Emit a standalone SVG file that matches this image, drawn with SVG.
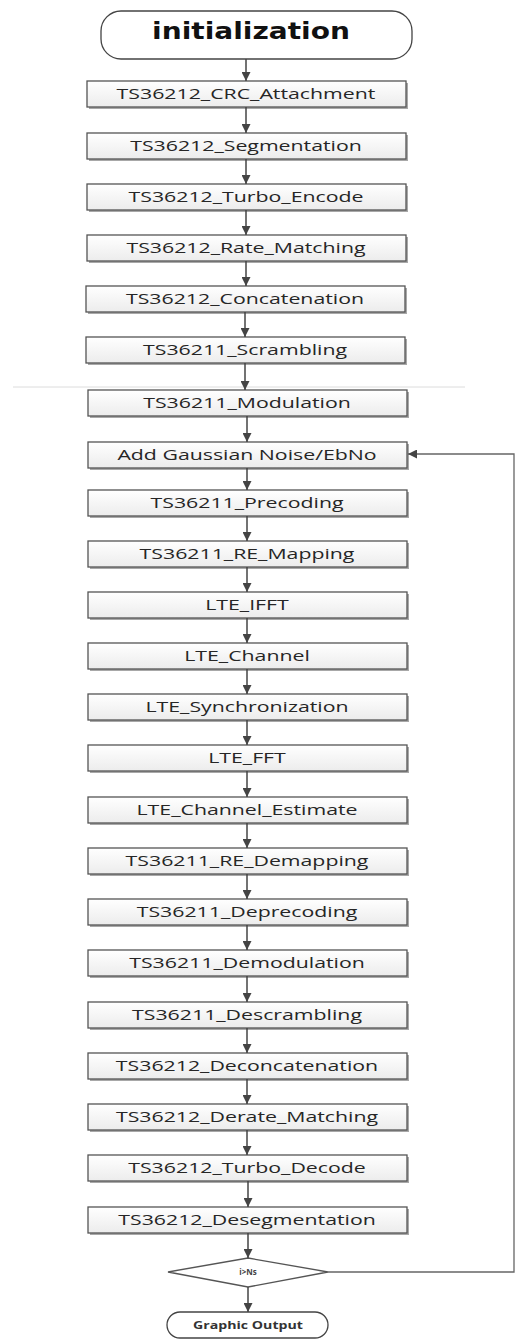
<svg xmlns="http://www.w3.org/2000/svg" width="515" height="1340" viewBox="0 0 515 1340">
  <style>
    .box { fill: url(#boxFill); stroke: #555; stroke-width: 1.3; }
    .shadow { fill: #a8a8a8; }
    .lbl { font-family: "Open Sans", "Liberation Sans", sans-serif; font-size: 15px; fill: #262626; text-anchor: middle; }
    .term { fill: #fff; stroke: #444; stroke-width: 1.3; }
    .flow { stroke: #444; stroke-width: 1.5; fill: none; }
    .loop { stroke: #666; stroke-width: 1.3; fill: none; }
  </style>
  <defs>
    <linearGradient id="boxFill" x1="0" y1="0" x2="0" y2="1">
      <stop offset="0" stop-color="#ffffff"/>
      <stop offset="1" stop-color="#ececec"/>
    </linearGradient>
    <marker id="arrow" viewBox="0 0 10 10" refX="10" refY="5" markerWidth="9" markerHeight="9" markerUnits="userSpaceOnUse" orient="auto">
      <path d="M0,0 L10,5 L0,10 z" fill="#444"/>
    </marker>
  </defs>

  <rect width="515" height="1340" fill="#ffffff"/>

  <!-- faint separator -->
  <line x1="13" y1="387" x2="465" y2="387" stroke="#dcdcdc" stroke-width="1"/>

  <!-- start terminal -->
  <g id="initialization">
    <rect class="term" x="101" y="11" width="311" height="48" rx="20" ry="20"/>
    <text x="0" y="0" transform="matrix(1.22 0 0 1 251 39)" font-family="DejaVu Sans, sans-serif" font-weight="bold" font-size="23" fill="#111" text-anchor="middle">initialization</text>
  </g>

  <!-- process boxes -->
  <g id="crc_attachment">
    <rect class="shadow" x="89" y="83" width="319" height="26"/>
    <rect class="box" x="87" y="81" width="319" height="26"/>
    <text class="lbl" transform="matrix(1.42 0 0 1 246 99)">TS36212_CRC_Attachment</text>
  </g>
  <g id="segmentation">
    <rect class="shadow" x="89" y="135" width="319" height="26"/>
    <rect class="box" x="87" y="133" width="319" height="26"/>
    <text class="lbl" transform="matrix(1.42 0 0 1 246 151)">TS36212_Segmentation</text>
  </g>
  <g id="turbo_encode">
    <rect class="shadow" x="89" y="186" width="319" height="26"/>
    <rect class="box" x="87" y="184" width="319" height="26"/>
    <text class="lbl" transform="matrix(1.42 0 0 1 246 202)">TS36212_Turbo_Encode</text>
  </g>
  <g id="rate_matching">
    <rect class="shadow" x="89" y="237" width="319" height="26"/>
    <rect class="box" x="87" y="235" width="319" height="26"/>
    <text class="lbl" transform="matrix(1.42 0 0 1 246 253)">TS36212_Rate_Matching</text>
  </g>
  <g id="concatenation">
    <rect class="shadow" x="88" y="288" width="319" height="26"/>
    <rect class="box" x="86" y="286" width="319" height="26"/>
    <text class="lbl" transform="matrix(1.42 0 0 1 245 304)">TS36212_Concatenation</text>
  </g>
  <g id="scrambling">
    <rect class="shadow" x="88" y="339" width="319" height="26"/>
    <rect class="box" x="86" y="337" width="319" height="26"/>
    <text class="lbl" transform="matrix(1.42 0 0 1 245 355)">TS36211_Scrambling</text>
  </g>
  <g id="modulation">
    <rect class="shadow" x="90" y="392" width="319" height="26"/>
    <rect class="box" x="88" y="390" width="319" height="26"/>
    <text class="lbl" transform="matrix(1.42 0 0 1 247 408)">TS36211_Modulation</text>
  </g>
  <g id="gaussian_noise">
    <rect class="shadow" x="90" y="444" width="319" height="26"/>
    <rect class="box" x="88" y="442" width="319" height="26"/>
    <text class="lbl" transform="matrix(1.42 0 0 1 247 460)">Add Gaussian Noise/EbNo</text>
  </g>
  <g id="precoding">
    <rect class="shadow" x="90" y="492" width="319" height="26"/>
    <rect class="box" x="88" y="490" width="319" height="26"/>
    <text class="lbl" transform="matrix(1.42 0 0 1 247 508)">TS36211_Precoding</text>
  </g>
  <g id="re_mapping">
    <rect class="shadow" x="90" y="543" width="319" height="26"/>
    <rect class="box" x="88" y="541" width="319" height="26"/>
    <text class="lbl" transform="matrix(1.42 0 0 1 247 559)">TS36211_RE_Mapping</text>
  </g>
  <g id="ifft">
    <rect class="shadow" x="90" y="594" width="319" height="26"/>
    <rect class="box" x="88" y="592" width="319" height="26"/>
    <text class="lbl" transform="matrix(1.42 0 0 1 247 610)">LTE_IFFT</text>
  </g>
  <g id="channel">
    <rect class="shadow" x="90" y="645" width="319" height="26"/>
    <rect class="box" x="88" y="643" width="319" height="26"/>
    <text class="lbl" transform="matrix(1.42 0 0 1 247 661)">LTE_Channel</text>
  </g>
  <g id="synchronization">
    <rect class="shadow" x="90" y="696" width="319" height="26"/>
    <rect class="box" x="88" y="694" width="319" height="26"/>
    <text class="lbl" transform="matrix(1.42 0 0 1 247 712)">LTE_Synchronization</text>
  </g>
  <g id="fft">
    <rect class="shadow" x="90" y="747" width="319" height="26"/>
    <rect class="box" x="88" y="745" width="319" height="26"/>
    <text class="lbl" transform="matrix(1.42 0 0 1 247 763)">LTE_FFT</text>
  </g>
  <g id="channel_estimate">
    <rect class="shadow" x="90" y="799" width="319" height="26"/>
    <rect class="box" x="88" y="797" width="319" height="26"/>
    <text class="lbl" transform="matrix(1.42 0 0 1 247 815)">LTE_Channel_Estimate</text>
  </g>
  <g id="re_demapping">
    <rect class="shadow" x="90" y="850" width="319" height="26"/>
    <rect class="box" x="88" y="848" width="319" height="26"/>
    <text class="lbl" transform="matrix(1.42 0 0 1 247 866)">TS36211_RE_Demapping</text>
  </g>
  <g id="deprecoding">
    <rect class="shadow" x="90" y="901" width="319" height="26"/>
    <rect class="box" x="88" y="899" width="319" height="26"/>
    <text class="lbl" transform="matrix(1.42 0 0 1 247 917)">TS36211_Deprecoding</text>
  </g>
  <g id="demodulation">
    <rect class="shadow" x="90" y="952" width="319" height="26"/>
    <rect class="box" x="88" y="950" width="319" height="26"/>
    <text class="lbl" transform="matrix(1.42 0 0 1 247 968)">TS36211_Demodulation</text>
  </g>
  <g id="descrambling">
    <rect class="shadow" x="90" y="1004" width="319" height="26"/>
    <rect class="box" x="88" y="1002" width="319" height="26"/>
    <text class="lbl" transform="matrix(1.42 0 0 1 247 1020)">TS36211_Descrambling</text>
  </g>
  <g id="deconcatenation">
    <rect class="shadow" x="90" y="1055" width="319" height="26"/>
    <rect class="box" x="88" y="1053" width="319" height="26"/>
    <text class="lbl" transform="matrix(1.42 0 0 1 247 1071)">TS36212_Deconcatenation</text>
  </g>
  <g id="derate_matching">
    <rect class="shadow" x="90" y="1106" width="319" height="26"/>
    <rect class="box" x="88" y="1104" width="319" height="26"/>
    <text class="lbl" transform="matrix(1.42 0 0 1 247 1122)">TS36212_Derate_Matching</text>
  </g>
  <g id="turbo_decode">
    <rect class="shadow" x="90" y="1157" width="319" height="26"/>
    <rect class="box" x="88" y="1155" width="319" height="26"/>
    <text class="lbl" transform="matrix(1.42 0 0 1 247 1173)">TS36212_Turbo_Decode</text>
  </g>
  <g id="desegmentation">
    <rect class="shadow" x="90" y="1209" width="319" height="26"/>
    <rect class="box" x="88" y="1207" width="319" height="26"/>
    <text class="lbl" transform="matrix(1.42 0 0 1 247 1225)">TS36212_Desegmentation</text>
  </g>

  <!-- decision -->
  <g id="loop_check">
    <polygon points="248,1258 328,1272 248,1287 168,1272" fill="#fff" stroke="#555" stroke-width="1.3"/>
    <text x="248" y="1275" font-family="Open Sans, Liberation Sans, sans-serif" font-size="8" font-weight="bold" fill="#444" text-anchor="middle">i&gt;Ns</text>
  </g>

  <!-- end terminal -->
  <g id="graphic_output">
    <rect class="term" x="167" y="1312" width="161" height="26" rx="13" ry="13"/>
    <text x="0" y="0" transform="matrix(1.35 0 0 1 248 1329)" font-family="Open Sans, Liberation Sans, sans-serif" font-size="10.5" font-weight="bold" fill="#333" text-anchor="middle">Graphic Output</text>
  </g>

  <!-- connectors -->
  <g id="connectors">
    <line class="flow" x1="246" y1="59" x2="246" y2="81" marker-end="url(#arrow)"/>
    <line class="flow" x1="246" y1="107" x2="246" y2="133" marker-end="url(#arrow)"/>
    <line class="flow" x1="246" y1="159" x2="246" y2="184" marker-end="url(#arrow)"/>
    <line class="flow" x1="246" y1="210" x2="246" y2="235" marker-end="url(#arrow)"/>
    <line class="flow" x1="246" y1="261" x2="246" y2="286" marker-end="url(#arrow)"/>
    <line class="flow" x1="245" y1="312" x2="245" y2="337" marker-end="url(#arrow)"/>
    <line class="flow" x1="245" y1="363" x2="245" y2="390" marker-end="url(#arrow)"/>
    <line class="flow" x1="247" y1="416" x2="247" y2="442" marker-end="url(#arrow)"/>
    <line class="flow" x1="247" y1="468" x2="247" y2="490" marker-end="url(#arrow)"/>
    <line class="flow" x1="247" y1="516" x2="247" y2="541" marker-end="url(#arrow)"/>
    <line class="flow" x1="247" y1="567" x2="247" y2="592" marker-end="url(#arrow)"/>
    <line class="flow" x1="247" y1="618" x2="247" y2="643" marker-end="url(#arrow)"/>
    <line class="flow" x1="247" y1="669" x2="247" y2="694" marker-end="url(#arrow)"/>
    <line class="flow" x1="247" y1="720" x2="247" y2="745" marker-end="url(#arrow)"/>
    <line class="flow" x1="247" y1="771" x2="247" y2="797" marker-end="url(#arrow)"/>
    <line class="flow" x1="247" y1="823" x2="247" y2="848" marker-end="url(#arrow)"/>
    <line class="flow" x1="247" y1="874" x2="247" y2="899" marker-end="url(#arrow)"/>
    <line class="flow" x1="247" y1="925" x2="247" y2="950" marker-end="url(#arrow)"/>
    <line class="flow" x1="247" y1="976" x2="247" y2="1002" marker-end="url(#arrow)"/>
    <line class="flow" x1="247" y1="1028" x2="247" y2="1053" marker-end="url(#arrow)"/>
    <line class="flow" x1="247" y1="1079" x2="247" y2="1104" marker-end="url(#arrow)"/>
    <line class="flow" x1="247" y1="1130" x2="247" y2="1155" marker-end="url(#arrow)"/>
    <line class="flow" x1="248" y1="1181" x2="248" y2="1207" marker-end="url(#arrow)"/>
    <line class="flow" x1="248" y1="1233" x2="248" y2="1258" marker-end="url(#arrow)"/>
    <line class="flow" x1="248" y1="1287" x2="248" y2="1312" marker-end="url(#arrow)"/>
    <!-- repeat loop back to the noise stage -->
    <polyline class="loop" points="328,1272 514,1272 514,454 408,454" marker-end="url(#arrow)"/>
  </g>
</svg>
